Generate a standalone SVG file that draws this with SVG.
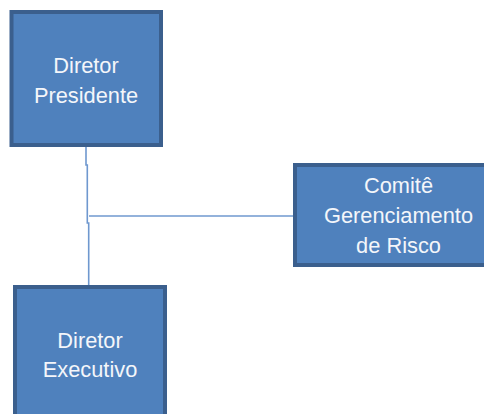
<svg xmlns="http://www.w3.org/2000/svg" width="484" height="414" viewBox="0 0 484 414">
<style>
.box{fill:#4f81bd;stroke:#3b5f8d;stroke-width:4}
.t{font-family:"Liberation Sans",Arial,sans-serif;font-size:21.8px;fill:#f4f6fa;text-anchor:middle}
.c{fill:none;stroke:#6f98cf;stroke-width:1.6}
</style>
<rect width="484" height="414" fill="#ffffff"/>
<g id="connectors">
<polyline class="c" points="86,147 86,165 87.3,165 87.3,223 88.7,223 88.7,285"/>
<line class="c" x1="89" y1="216" x2="293" y2="216"/>
</g>
<g id="diretor-presidente">
<rect class="box" x="11.5" y="12" width="149.5" height="133"/>
<text class="t" x="86" y="73">Diretor</text>
<text class="t" x="86" y="103">Presidente</text>
</g>
<g id="comite">
<rect class="box" x="295" y="165" width="210" height="100"/>
<text class="t" x="398.5" y="193">Comitê</text>
<text class="t" x="398.5" y="223">Gerenciamento</text>
<text class="t" x="398.5" y="253">de Risco</text>
</g>
<g id="diretor-executivo">
<rect class="box" x="15" y="287" width="150" height="140"/>
<text class="t" x="90" y="348">Diretor</text>
<text class="t" x="90" y="377">Executivo</text>
</g>
</svg>
